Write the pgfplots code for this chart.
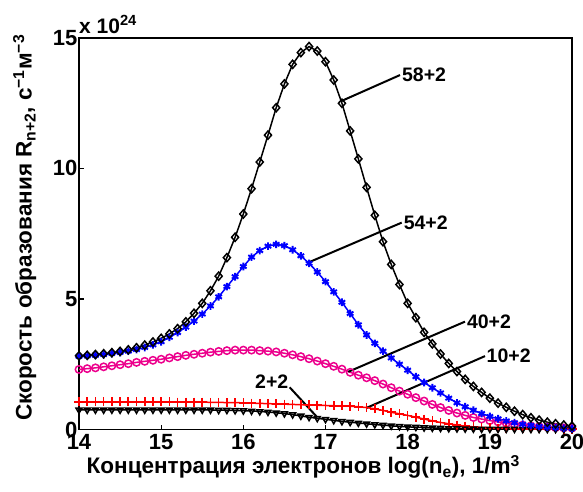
\documentclass[border=0pt]{standalone}
\usepackage{fontspec}
\setmainfont{Liberation Sans}
\usepackage{pgfplots}
\usepackage{pgfplotstable}
\pgfplotsset{compat=1.18}

\pgfplotstableread{
x y
14.0 2.82
14.1 2.84
14.2 2.87
14.3 2.90
14.4 2.94
14.5 2.99
14.6 3.05
14.7 3.13
14.8 3.23
14.9 3.35
15.0 3.49
15.1 3.66
15.2 3.86
15.3 4.12
15.4 4.45
15.5 4.83
15.6 5.31
15.7 5.87
15.8 6.58
15.9 7.36
16.0 8.25
16.1 9.22
16.2 10.24
16.3 11.27
16.4 12.32
16.5 13.23
16.6 13.98
16.7 14.43
16.8 14.66
16.9 14.49
17.0 14.08
17.1 13.38
17.2 12.49
17.3 11.43
17.4 10.36
17.5 9.27
17.6 8.20
17.7 7.19
17.8 6.32
17.9 5.55
18.0 4.83
18.1 4.28
18.2 3.72
18.3 3.28
18.4 2.89
18.5 2.53
18.6 2.22
18.7 1.92
18.8 1.65
18.9 1.42
19.0 1.20
19.1 1.01
19.2 0.85
19.3 0.70
19.4 0.57
19.5 0.45
19.6 0.36
19.7 0.28
19.8 0.22
19.9 0.17
20.0 0.13
}\tabA

\pgfplotstableread{
x y
14.0 2.80
14.1 2.82
14.2 2.84
14.3 2.87
14.4 2.91
14.5 2.95
14.6 3.00
14.7 3.06
14.8 3.14
14.9 3.24
15.0 3.36
15.1 3.53
15.2 3.71
15.3 3.92
15.4 4.15
15.5 4.42
15.6 4.73
15.7 5.08
15.8 5.47
15.9 5.85
16.0 6.24
16.1 6.60
16.2 6.85
16.3 7.02
16.4 7.09
16.5 7.04
16.6 6.88
16.7 6.65
16.8 6.36
16.9 6.03
17.0 5.66
17.1 5.27
17.2 4.87
17.3 4.44
17.4 4.01
17.5 3.62
17.6 3.30
17.7 3.00
17.8 2.74
17.9 2.50
18.0 2.27
18.1 2.02
18.2 1.80
18.3 1.60
18.4 1.40
18.5 1.20
18.6 1.02
18.7 0.87
18.8 0.74
18.9 0.61
19.0 0.50
19.1 0.41
19.2 0.33
19.3 0.26
19.4 0.20
19.5 0.16
19.6 0.12
19.7 0.09
19.8 0.07
19.9 0.05
20.0 0.04
}\tabB

\pgfplotstableread{
x y
14.0 2.30
14.1 2.33
14.2 2.36
14.3 2.40
14.4 2.44
14.5 2.48
14.6 2.52
14.7 2.57
14.8 2.61
14.9 2.65
15.0 2.69
15.1 2.74
15.2 2.79
15.3 2.84
15.4 2.88
15.5 2.92
15.6 2.96
15.7 2.99
15.8 3.02
15.9 3.04
16.0 3.04
16.1 3.04
16.2 3.02
16.3 3.00
16.4 2.97
16.5 2.92
16.6 2.86
16.7 2.79
16.8 2.71
16.9 2.62
17.0 2.52
17.1 2.42
17.2 2.31
17.3 2.19
17.4 2.08
17.5 1.98
17.6 1.87
17.7 1.74
17.8 1.60
17.9 1.47
18.0 1.35
18.1 1.22
18.2 1.09
18.3 0.96
18.4 0.84
18.5 0.73
18.6 0.63
18.7 0.54
18.8 0.46
18.9 0.40
19.0 0.34
19.1 0.29
19.2 0.24
19.3 0.20
19.4 0.17
19.5 0.14
19.6 0.11
19.7 0.09
19.8 0.07
19.9 0.06
20.0 0.05
}\tabC

\pgfplotstableread{
x y
14.0 1.06
14.1 1.06
14.2 1.06
14.3 1.06
14.4 1.06
14.5 1.06
14.6 1.06
14.7 1.06
14.8 1.06
14.9 1.06
15.0 1.06
15.1 1.06
15.2 1.05
15.3 1.05
15.4 1.05
15.5 1.05
15.6 1.04
15.7 1.04
15.8 1.03
15.9 1.03
16.0 1.02
16.1 1.01
16.2 1.00
16.3 0.99
16.4 0.98
16.5 0.97
16.6 0.96
16.7 0.95
16.8 0.94
16.9 0.93
17.0 0.92
17.1 0.91
17.2 0.90
17.3 0.89
17.4 0.87
17.5 0.84
17.6 0.79
17.7 0.73
17.8 0.66
17.9 0.60
18.0 0.54
18.1 0.47
18.2 0.40
18.3 0.33
18.4 0.27
18.5 0.22
18.6 0.17
18.7 0.13
18.8 0.10
18.9 0.08
19.0 0.06
19.1 0.05
19.2 0.04
19.3 0.03
19.4 0.03
19.5 0.02
19.6 0.02
19.7 0.02
19.8 0.01
19.9 0.01
20.0 0.01
}\tabD

\pgfplotstableread{
x y
14.0 0.75
14.1 0.75
14.2 0.75
14.3 0.75
14.4 0.75
14.5 0.75
14.6 0.75
14.7 0.75
14.8 0.75
14.9 0.75
15.0 0.75
15.1 0.75
15.2 0.75
15.3 0.75
15.4 0.75
15.5 0.75
15.6 0.75
15.7 0.74
15.8 0.74
15.9 0.73
16.0 0.72
16.1 0.71
16.2 0.69
16.3 0.67
16.4 0.64
16.5 0.61
16.6 0.57
16.7 0.52
16.8 0.47
16.9 0.43
17.0 0.39
17.1 0.35
17.2 0.31
17.3 0.28
17.4 0.25
17.5 0.22
17.6 0.19
17.7 0.17
17.8 0.14
17.9 0.12
18.0 0.10
18.1 0.09
18.2 0.07
18.3 0.06
18.4 0.05
18.5 0.04
18.6 0.035
18.7 0.03
18.8 0.025
18.9 0.02
19.0 0.02
19.1 0.015
19.2 0.015
19.3 0.015
19.4 0.01
19.5 0.01
19.6 0.01
19.7 0.01
19.8 0.01
19.9 0.01
20.0 0.01
}\tabE

\begin{document}
\begin{tikzpicture}
\begin{axis}[
  scale only axis,
  width=493pt, height=391.8pt,
  at={(0,0)}, anchor=south west,
  xmin=14, xmax=20, ymin=0, ymax=15,
  xtick={14,15,16,17,18,19,20},
  ytick={0,5,10,15},
  tick align=inside,
  xtick pos=bottom, ytick pos=left,
  major tick length=5pt,
  axis line style={line width=1.8pt},
  tick style={line width=1.3pt, black},
  clip=false,
  /pgf/number format/assume math mode=true,
  ticklabel style={font=\fontsize{22}{22}\selectfont\bfseries},
  xticklabel style={yshift=-1pt},
  yticklabel style={xshift=2pt},
  xlabel={Концентрация электронов log(n\textsubscript{e}), 1/m\textsuperscript{3}},
  ylabel={Скорость образования R\textsubscript{n+2}, с\textsuperscript{−1}м\textsuperscript{−3}},
  label style={font=\fontsize{22.5}{24}\selectfont\bfseries},
  xlabel style={at={(axis description cs:0.455,-0.096)}, anchor=center},
  ylabel style={at={(axis description cs:-0.11,0.515)}, anchor=center, rotate=0},
]
\addplot[color=magenta, line width=1.5pt, mark=o, mark size=3.7pt, mark options={line width=1.5pt}] table {\tabC};
\addplot[color=red, line width=1.5pt, mark=+, mark size=4.5pt, mark options={line width=1.6pt}] table {\tabD};
\addplot[color=black, line width=1.5pt, mark=triangle, mark size=3.4pt, mark options={rotate=180, line width=1.5pt}] table {\tabE};
\addplot[color=blue, line width=1.5pt, mark=asterisk, mark size=3.8pt, mark options={line width=1.9pt}] table {\tabB};
\addplot[color=black, line width=1.5pt, mark=diamond, mark size=4.1pt, mark options={line width=1.5pt, xscale=1.15}] table {\tabA};

\draw[line width=2pt] (axis cs:17.197,12.58) -- (axis cs:17.907,13.57);
\node[anchor=west, inner sep=0pt, font=\fontsize{19.5}{19.5}\selectfont\bfseries] at (axis cs:17.93,13.57) {58+2};
\draw[line width=2pt] (axis cs:16.811,6.42) -- (axis cs:17.927,7.92);
\node[anchor=west, inner sep=0pt, font=\fontsize{19.5}{19.5}\selectfont\bfseries] at (axis cs:17.95,7.92) {54+2};
\draw[line width=2pt] (axis cs:17.277,2.21) -- (axis cs:18.698,4.13);
\node[anchor=west, inner sep=0pt, font=\fontsize{19.5}{19.5}\selectfont\bfseries] at (axis cs:18.72,4.13) {40+2};
\draw[line width=2pt] (axis cs:17.501,0.83) -- (axis cs:18.941,2.81);
\node[anchor=west, inner sep=0pt, font=\fontsize{19.5}{19.5}\selectfont\bfseries] at (axis cs:18.96,2.81) {10+2};
\draw[line width=2pt] (axis cs:16.564,1.615) -- (axis cs:16.90,0.467);
\node[anchor=east, inner sep=0pt, font=\fontsize{19.5}{19.5}\selectfont\bfseries] at (axis cs:16.55,1.83) {2+2};

\node[anchor=south west, inner sep=0pt, font=\fontsize{21}{21}\selectfont\bfseries] at ([yshift=4pt]rel axis cs:0,1) {x 10\textsuperscript{24}};
\end{axis}
\pgfresetboundingbox
\path[use as bounding box] (-79pt,-61.5pt) rectangle (504pt,429.5pt);
\end{tikzpicture}
\end{document}
